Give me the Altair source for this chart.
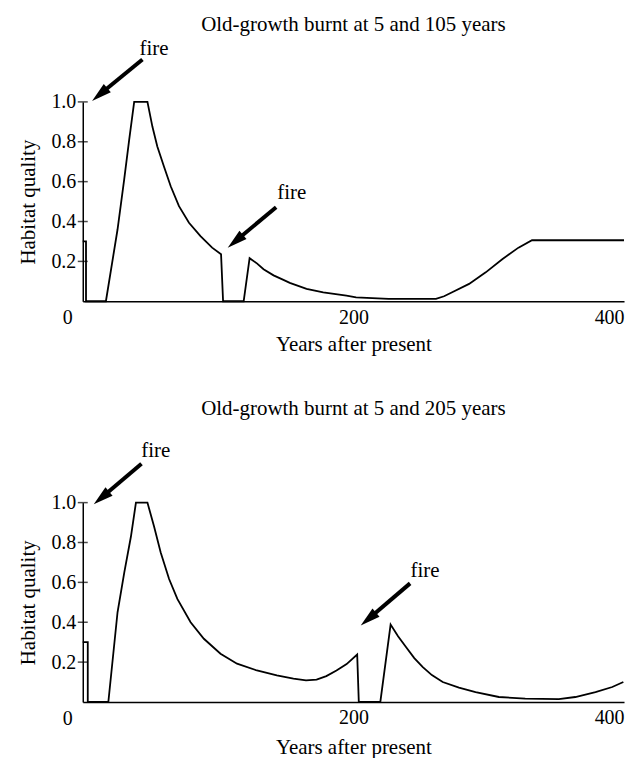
import altair as alt
import pandas as pd

FONT = "Liberation Serif"

# ---- data ----
TITLES = ["Old-growth burnt at 5 and 105 years", "Old-growth burnt at 5 and 205 years"]
X_LABEL = "Years after present"
Y_LABEL = "Habitat quality"
Y_TICKS = [0.2, 0.4, 0.6, 0.8, 1.0]
X_TICKS = [200, 400]

top_year = [0, 2.4, 2.4, 17.1, 25.7, 30.6, 34.3, 38.0, 47.8, 51.5, 55.1, 60, 65, 71.1,
            78.5, 87, 95.6, 102.2, 103.7, 118.9, 123.3, 128.7, 133.6, 141, 148.3, 153,
            165.4, 177.7, 194.9, 202, 226, 261, 267, 273, 285.5, 297.8, 310, 322, 332, 400]
top_quality = [0.3, 0.3, 0, 0, 0.36, 0.61, 0.81, 1.0, 1.0, 0.875, 0.776, 0.676, 0.577, 0.477,
               0.394, 0.327, 0.269, 0.236, 0, 0, 0.216, 0.19, 0.161, 0.13, 0.107, 0.092,
               0.062, 0.045, 0.028, 0.02, 0.012, 0.012, 0.025, 0.045, 0.087, 0.145, 0.211,
               0.269, 0.306, 0.306]

bot_year = [0, 3.7, 3.7, 18.9, 25.7, 30.7, 35.6, 39.3, 47.8, 52.7, 57.6, 63.8, 69.9, 79.7,
            89.5, 101.8, 114, 128.7, 143.4, 155.7, 165, 172.8, 180, 187.5, 195, 202.8,
            204, 219.9, 227.5, 233, 239, 245, 251.3, 258, 266, 278, 290.3, 307.5, 327,
            351.8, 364, 378.9, 391.3, 399.5]
bot_quality = [0.3, 0.3, 0, 0, 0.45, 0.65, 0.83, 1.0, 1.0, 0.88, 0.75, 0.617, 0.517, 0.40,
               0.317, 0.242, 0.192, 0.158, 0.133, 0.117, 0.108, 0.112, 0.13, 0.158, 0.19,
               0.238, 0, 0, 0.388, 0.33, 0.275, 0.22, 0.175, 0.135, 0.1, 0.072, 0.05, 0.025,
               0.017, 0.014, 0.025, 0.05, 0.075, 0.1]

# fire annotations: label position, arrow tail, arrow tip (data units)
top_fire_label_x = [52.7, 154.4]
top_fire_label_y = [1.236, 0.515]
top_tail_x = [44.1, 142.9]
top_tail_y = [1.213, 0.472]
top_tip_x = [6.84, 107.1]
top_tip_y = [1.005, 0.269]

bot_fire_label_x = [54.0, 252.9]
bot_fire_label_y = [1.228, 0.628]
bot_tail_x = [43.4, 241.9]
bot_tail_y = [1.195, 0.595]
bot_tip_x = [8.1, 205.4]
bot_tip_y = [0.992, 0.384]

W, H = 543, 200
HEAD_DX, HEAD_DY = 7.68, -6.4


def panel(years, quality, title, title_offset, xtitle_pad,
          lab_x, lab_y, tail_x, tail_y, tip_x, tip_y):
    line_df = pd.DataFrame({"year": years, "quality": quality, "step": list(range(len(years)))})
    line = alt.Chart(line_df).mark_line(color="black", strokeWidth=1.8).encode(
        x=alt.X("year:Q",
                scale=alt.Scale(domain=[0, 400], nice=False),
                axis=alt.Axis(values=X_TICKS, ticks=False, grid=False, labelPadding=6,
                              title=X_LABEL, titlePadding=xtitle_pad)),
        y=alt.Y("quality:Q",
                scale=alt.Scale(domain=[0, 1], nice=False),
                axis=alt.Axis(values=Y_TICKS, format=".1f", ticks=False, grid=False,
                              labelPadding=7, title=Y_LABEL, titlePadding=12)),
        order="step:Q",
    )
    tick_df = pd.DataFrame({"quality": Y_TICKS})
    ticks = alt.Chart(tick_df).mark_tick(orient="horizontal", size=10, thickness=1.5,
                                         color="black").encode(
        x=alt.value(0), y="quality:Q")
    zero_df = pd.DataFrame({"year": [0], "quality": [0], "label": ["0"]})
    zero = alt.Chart(zero_df).mark_text(font=FONT, fontSize=20, dx=-15, dy=17,
                                        baseline="middle", color="black").encode(
        x="year:Q", y="quality:Q", text="label:N")
    shaft_df = pd.DataFrame({"year": tail_x, "quality": tail_y, "year2": tip_x, "quality2": tip_y})
    shafts = alt.Chart(shaft_df).mark_rule(strokeWidth=4, color="black",
                                           x2Offset=HEAD_DX, y2Offset=HEAD_DY).encode(
        x="year:Q", y="quality:Q", x2="year2:Q", y2="quality2:Q")
    head_df = pd.DataFrame({"year": tip_x, "quality": tip_y})
    heads = alt.Chart(head_df).mark_point(shape="M0,-1L0.55,1L-0.55,1Z", size=400, angle=230,
                                          filled=True, color="black", opacity=1,
                                          xOffset=HEAD_DX, yOffset=HEAD_DY).encode(
        x="year:Q", y="quality:Q")
    lab_df = pd.DataFrame({"year": lab_x, "quality": lab_y, "label": ["fire"] * len(lab_x)})
    labels = alt.Chart(lab_df).mark_text(font=FONT, fontSize=21, baseline="alphabetic",
                                         color="black").encode(
        x="year:Q", y="quality:Q", text="label:N")
    return alt.layer(line, ticks, zero, shafts, heads, labels).properties(
        width=W, height=H,
        title=alt.TitleParams(title, font=FONT, fontSize=21, fontWeight="normal",
                              color="black", anchor="middle", offset=title_offset),
    )


top = panel(top_year, top_quality, TITLES[0], 3, 6, top_fire_label_x, top_fire_label_y,
            top_tail_x, top_tail_y, top_tip_x, top_tip_y)
bottom = panel(bot_year, bot_quality, TITLES[1], 21, 9, bot_fire_label_x, bot_fire_label_y,
               bot_tail_x, bot_tail_y, bot_tip_x, bot_tip_y)

chart = alt.vconcat(top, bottom, spacing=44).properties(
    padding={"left": 10, "top": 4, "right": 5, "bottom": 2}
).configure_view(stroke=None).configure_axis(
    labelFont=FONT, labelFontSize=20, labelColor="black",
    titleFont=FONT, titleFontSize=21, titleFontWeight="normal", titleColor="black",
    domainColor="black", domainWidth=1.5,
)

chart.save("out.html", embed_options={"renderer": "svg", "actions": False})
